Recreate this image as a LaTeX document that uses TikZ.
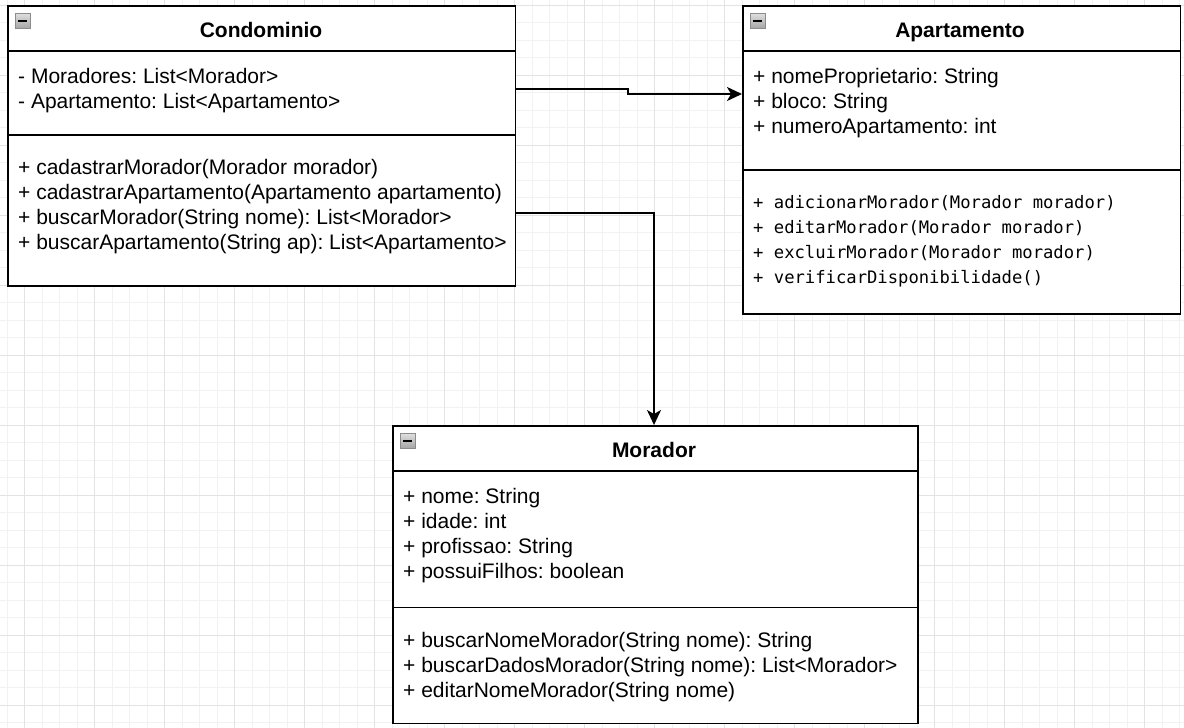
\documentclass[tikz,border=0pt]{standalone}
\usepackage{fontspec}
\setmainfont{Liberation Sans}
\newfontfamily\umlmono{DejaVu Sans Mono}
\usetikzlibrary{arrows.meta}
\frenchspacing
\tikzset{
  minorgrid/.style={draw=black!5, line width=0.9pt},
  majorgrid/.style={draw=black!11, line width=1pt},
  umlbox/.style={draw=black, fill=white, line width=1.8pt, rectangle, inner sep=0pt, anchor=north west},
  sepline/.style={draw=black, line width=1.8pt},
  txt/.style={inner sep=0pt, anchor=base west, font=\fontsize{21}{25}\selectfont},
  mtxt/.style={inner sep=0pt, anchor=base west, font=\umlmono\fontsize{17.2}{25}\selectfont},
  ttl/.style={inner sep=0pt, anchor=base, font=\fontsize{21}{25}\selectfont\bfseries},
  conn/.style={draw=black, line width=1.8pt, -{Stealth[length=15pt, width=14pt, inset=4pt]}},
  iconbox/.style={draw=black!45, line width=0.9pt, top color=black!12, bottom color=black!35},
}
\newcommand{\umlicon}[2]{%
  \draw[iconbox] (#1+8,#2+8) rectangle (#1+23,#2+23);
  \fill[black] (#1+11,#2+14.5) rectangle (#1+20,#2+16.5);
}
\begin{document}
\begin{tikzpicture}[x=1pt, y=-1pt]
\useasboundingbox (0,0) rectangle (1184,728);
\fill[white] (0,0) rectangle (1184,728);
% grid
\foreach \x in {7,24.5,...,1184} \draw[minorgrid] (\x,0) -- (\x,728);
\foreach \y in {5,22.5,...,728} \draw[minorgrid] (0,\y) -- (1184,\y);
\foreach \x in {24.5,94.5,...,1184} \draw[majorgrid] (\x,0) -- (\x,728);
\foreach \y in {5,75,...,728} \draw[majorgrid] (0,\y) -- (1184,\y);

% Condominio
\node[umlbox, minimum width=507.5pt, minimum height=280pt] (cond) at (7,5) {};
\draw[sepline] (cond.west |- 0,51) -- (cond.east |- 0,51);
\draw[sepline] (cond.west |- 0,135) -- (cond.east |- 0,135);
\umlicon{7}{5}
\node[ttl] (condt) at (261,37) {Condominio};
\node[txt] (ca1) at (18,83) {- Moradores: List<Morador>};
\node[txt] (ca2) at (18,108) {- Apartamento: List<Apartamento>};
\node[txt] (cm1) at (18,174) {+ cadastrarMorador(Morador morador)};
\node[txt] (cm2) at (18,199) {+ cadastrarApartamento(Apartamento apartamento)};
\node[txt] (cm3) at (18,224) {+ buscarMorador(String nome): List<Morador>};
\node[txt] (cm4) at (18,249) {+ buscarApartamento(String ap): List<Apartamento>};

% Apartamento
\node[umlbox, minimum width=437.5pt, minimum height=308pt] (apt) at (742,5) {};
\draw[sepline] (apt.west |- 0,51) -- (apt.east |- 0,51);
\draw[sepline] (apt.west |- 0,170) -- (apt.east |- 0,170);
\umlicon{742}{5}
\node[ttl] (aptt) at (960,37) {Apartamento};
\node[txt] (aa1) at (753,83) {+ nomeProprietario: String};
\node[txt] (aa2) at (753,108) {+ bloco: String};
\node[txt] (aa3) at (753,133) {+ numeroApartamento: int};
\node[mtxt] (am1) at (753,208) {+ adicionarMorador(Morador morador)};
\node[mtxt] (am2) at (753,233) {+ editarMorador(Morador morador)};
\node[mtxt] (am3) at (753,258) {+ excluirMorador(Morador morador)};
\node[mtxt] (am4) at (753,283) {+ verificarDisponibilidade()};

% Morador
\node[umlbox, minimum width=525pt, minimum height=297.5pt] (mor) at (392,425) {};
\draw[sepline] (mor.west |- 0,471) -- (mor.east |- 0,471);
\draw[sepline] (mor.west |- 0,607.5) -- (mor.east |- 0,607.5);
\umlicon{392}{425}
\node[ttl] (mort) at (654,457) {Morador};
\node[txt] (ma1) at (403,503) {+ nome: String};
\node[txt] (ma2) at (403,528) {+ idade: int};
\node[txt] (ma3) at (403,553) {+ profissao: String};
\node[txt] (ma4) at (403,578) {+ possuiFilhos: boolean};
\node[txt] (mm1) at (403,647) {+ buscarNomeMorador(String nome): String};
\node[txt] (mm2) at (403,672) {+ buscarDadosMorador(String nome): List<Morador>};
\node[txt] (mm3) at (403,697) {+ editarNomeMorador(String nome)};

% connectors
\draw[conn] (cond.east |- 0,89) -- (628,89) -- (628,94) -- (apt.west |- 0,94);
\draw[conn] (cond.east |- 0,213) -- (654,213) -- (mor.north -| 654,0);
\end{tikzpicture}
\end{document}
